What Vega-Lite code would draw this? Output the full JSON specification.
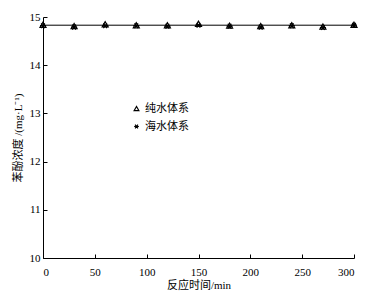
{
  "$schema": "https://vega.github.io/schema/vega-lite/v6.json",
  "width": 311,
  "height": 241,
  "autosize": {"type": "none"},
  "padding": {"left": 43, "top": 17, "right": 18, "bottom": 42},
  "background": "white",
  "config": {
    "view": {"stroke": null},
    "font": "Liberation Serif",
    "axis": {
      "domainColor": "black",
      "tickColor": "black",
      "labelColor": "black",
      "titleColor": "black",
      "labelFont": "Liberation Serif",
      "labelFontSize": 11,
      "titleFont": "Liberation Serif, Noto Sans CJK SC",
      "titleFontSize": 11,
      "titleFontWeight": "normal",
      "grid": false,
      "tickSize": -4,
      "domainWidth": 1,
      "tickWidth": 1
    }
  },
  "datasets": {
    "pts": [
      {"t": 0, "series": "纯水体系", "c": 14.84},
      {"t": 30, "series": "纯水体系", "c": 14.81},
      {"t": 60, "series": "纯水体系", "c": 14.85},
      {"t": 90, "series": "纯水体系", "c": 14.83},
      {"t": 120, "series": "纯水体系", "c": 14.83},
      {"t": 150, "series": "纯水体系", "c": 14.86},
      {"t": 180, "series": "纯水体系", "c": 14.82},
      {"t": 210, "series": "纯水体系", "c": 14.81},
      {"t": 240, "series": "纯水体系", "c": 14.83},
      {"t": 270, "series": "纯水体系", "c": 14.80},
      {"t": 300, "series": "纯水体系", "c": 14.84},
      {"t": 0, "series": "海水体系", "c": 14.82},
      {"t": 30, "series": "海水体系", "c": 14.79},
      {"t": 60, "series": "海水体系", "c": 14.82},
      {"t": 90, "series": "海水体系", "c": 14.82},
      {"t": 120, "series": "海水体系", "c": 14.81},
      {"t": 150, "series": "海水体系", "c": 14.83},
      {"t": 180, "series": "海水体系", "c": 14.81},
      {"t": 210, "series": "海水体系", "c": 14.79},
      {"t": 240, "series": "海水体系", "c": 14.82},
      {"t": 270, "series": "海水体系", "c": 14.78},
      {"t": 300, "series": "海水体系", "c": 14.83}
    ],
    "fit": [
      {"t": 0, "c": 14.83},
      {"t": 300, "c": 14.83}
    ]
  },
  "layer": [
    {
      "data": {"name": "fit"},
      "mark": {"type": "line", "color": "black", "strokeWidth": 1},
      "encoding": {
        "x": {"field": "t", "type": "quantitative"},
        "y": {"field": "c", "type": "quantitative"}
      }
    },
    {
      "data": {"name": "pts"},
      "mark": {"type": "point", "filled": false, "color": "black", "strokeWidth": 1.2, "size": 36, "opacity": 1},
      "encoding": {
        "x": {
          "field": "t", "type": "quantitative",
          "scale": {"domain": [0, 300], "nice": false},
          "axis": {"values": [0, 50, 100, 150, 200, 250, 300], "title": "反应时间/min", "labelPadding": 12, "titlePadding": 2}
        },
        "y": {
          "field": "c", "type": "quantitative",
          "scale": {"domain": [10, 15], "nice": false, "zero": false},
          "axis": {"values": [10, 11, 12, 13, 14, 15], "title": "苯酚浓度 /(mg·L⁻¹)", "labelPadding": 7, "titlePadding": 6}
        },
        "shape": {
          "field": "series", "type": "nominal",
          "scale": {"domain": ["纯水体系", "海水体系"], "range": ["triangle-up", "M-1,0L1,0M-0.6,-0.8L0.6,0.8M-0.6,0.8L0.6,-0.8"]},
          "legend": {
            "title": null,
            "orient": "none",
            "legendX": 88,
            "legendY": 86,
            "labelFont": "Noto Sans CJK SC",
            "labelFontSize": 11,
            "labelColor": "black",
            "symbolSize": 22,
            "symbolStrokeColor": "black",
            "symbolStrokeWidth": 1.2,
            "symbolFillColor": "transparent",
            "rowPadding": 6,
            "labelOffset": 3
          }
        }
      }
    }
  ]
}
